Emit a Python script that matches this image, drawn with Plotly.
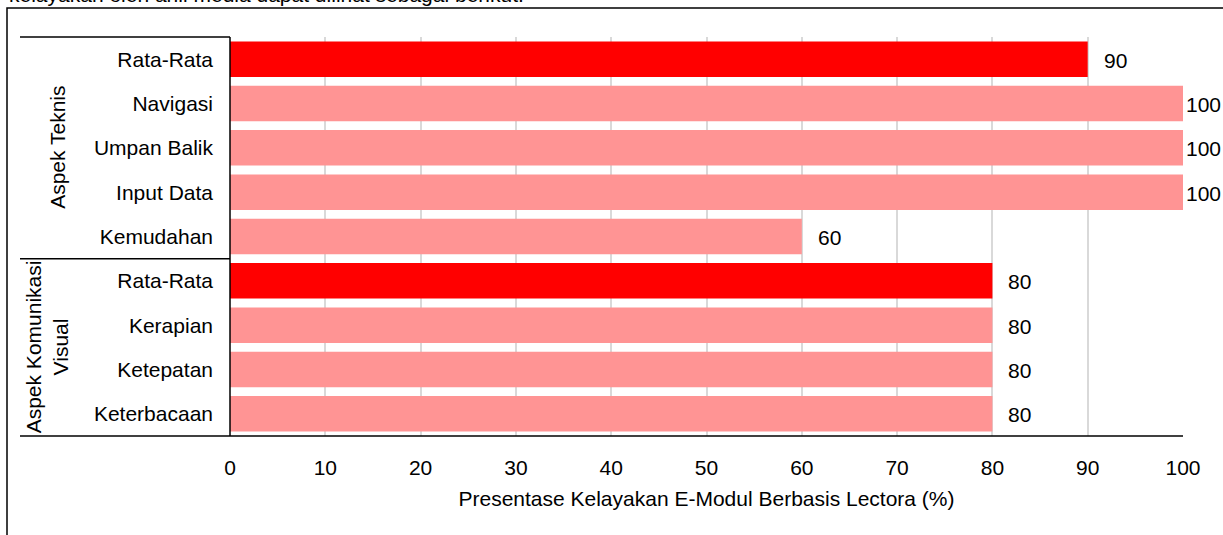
import plotly.graph_objects as go

groups = ["Aspek Teknis"] * 5 + ["Aspek Komunikasi<br>Visual"] * 4
labels = ["Rata-Rata", "Navigasi", "Umpan Balik", "Input Data", "Kemudahan",
          "Rata-Rata", "Kerapian", "Ketepatan", "Keterbacaan"]
values = [90, 100, 100, 100, 60, 80, 80, 80, 80]
x_ticks = list(range(0, 101, 10))
x_title = "Presentase Kelayakan E-Modul Berbasis Lectora (%)"
caption = "kelayakan oleh ahli media dapat dilihat sebagai berikut."

FONT = "Liberation Sans, Arial, sans-serif"
FS = 21
keys = [f"{g}|{l}|{i}" for i, (g, l) in enumerate(zip(groups, labels))]
colors = ["#FF0000" if l == "Rata-Rata" else "#FF9494" for l in labels]

fig = go.Figure(go.Bar(
    x=values, y=keys, orientation="h",
    marker=dict(color=colors, line=dict(width=0)),
    hoverinfo="x+y",
))

# data labels
for k, v in zip(keys, values):
    fig.add_annotation(x=v, y=k, text=str(v), showarrow=False,
                       xanchor="left", yanchor="middle",
                       xshift=(1 if v >= 100 else 14), yshift=-1,
                       font=dict(family=FONT, size=FS, color="#000"))

W, H, L, T, R, B = 1223, 535, 230, 37, 40, 99
pw = W - L - R
ph = H - T - B
def px2x(px):
    return (px - L) / pw
def py2y(py):
    return (H - B - py) / ph

# group labels (rotated)
ug = []
for g in groups:
    if g not in ug:
        ug.append(g)
gx = {ug[0]: 58, ug[1]: 47}
for g in ug:
    idx = [i for i, gg in enumerate(groups) if gg == g]
    mid = (idx[0] + idx[-1]) / 2
    fig.add_annotation(x=px2x(gx[g]), xref="paper", y=mid, yref="y",
                       text=g, textangle=-90, showarrow=False,
                       xanchor="center", yanchor="middle",
                       font=dict(family=FONT, size=FS, color="#000"))

# separator lines for category groups
lx0 = px2x(20)
fig.add_shape(type="line", xref="paper", yref="paper", x0=lx0, x1=0, y0=1, y1=1,
              line=dict(color="#000", width=1.5))
sep = [i for i in range(1, len(groups)) if groups[i] != groups[i - 1]]
for s in sep:
    fig.add_shape(type="line", xref="paper", yref="y", x0=lx0, x1=0,
                  y0=s - 0.5, y1=s - 0.5, line=dict(color="#000", width=1.5))
fig.add_shape(type="line", xref="paper", yref="paper", x0=lx0, x1=1, y0=0, y1=0,
              line=dict(color="#000", width=1.5))
fig.add_shape(type="line", xref="paper", yref="paper", x0=0, x1=0, y0=0, y1=1,
              line=dict(color="#000", width=1.5))

# outer frame
fig.add_shape(type="rect", xref="paper", yref="paper",
              x0=px2x(7), x1=px2x(1240), y0=py2y(560), y1=py2y(8),
              line=dict(color="#000", width=1.5), fillcolor="rgba(0,0,0,0)",
              layer="below")

# cut-off caption on top
fig.add_annotation(x=px2x(7), xref="paper", y=py2y(-5), yref="paper",
                   text=caption, showarrow=False, xanchor="left", yanchor="middle",
                   font=dict(family=FONT, size=FS, color="#000"))

fig.update_layout(
    width=W, height=H,
    margin=dict(l=L, r=R, t=T, b=B),
    paper_bgcolor="white", plot_bgcolor="white",
    bargap=0.2, showlegend=False,
    font=dict(family=FONT, size=FS, color="#000"),
)
fig.update_xaxes(range=[0, 100], tickvals=x_ticks, ticktext=[str(t) for t in x_ticks],
                 showgrid=True, gridcolor="#D9D9D9", gridwidth=1.5,
                 zeroline=False, showline=False, ticks="",
                 ticklabelstandoff=17,
                 title=dict(text=x_title, font=dict(family=FONT, size=FS), standoff=13),
                 tickfont=dict(family=FONT, size=FS, color="#000"))
fig.update_yaxes(type="category", categoryorder="array", categoryarray=keys,
                 tickvals=keys, ticktext=labels, autorange="reversed",
                 showgrid=False, zeroline=False, showline=False, ticks="",
                 ticklabelstandoff=16,
                 tickfont=dict(family=FONT, size=FS, color="#000"))

fig.write_html("out.html", config={"displayModeBar": False},
               post_script="document.body.style.margin='0px';")
